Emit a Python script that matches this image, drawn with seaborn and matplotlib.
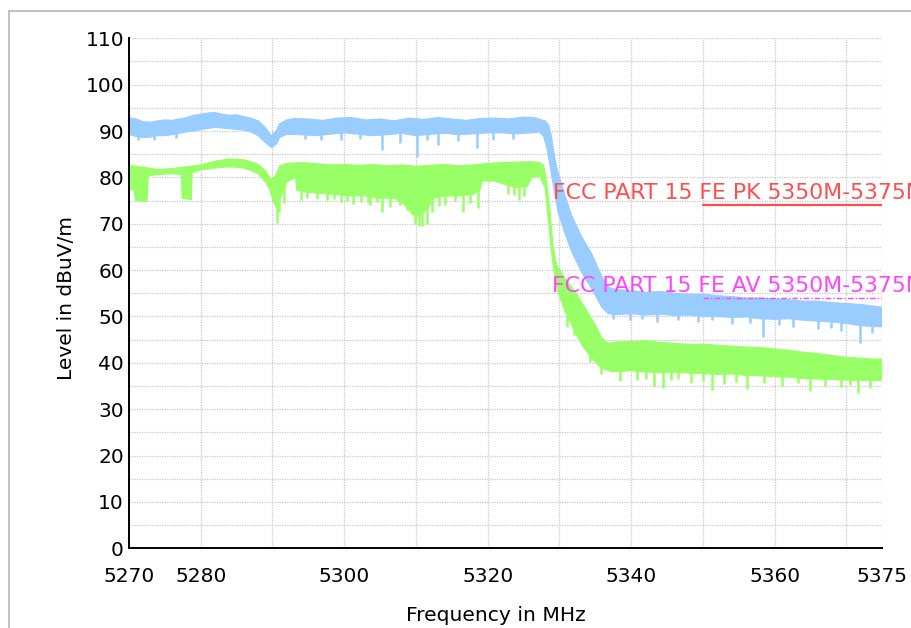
import matplotlib
matplotlib.use("Agg")
import numpy as np
import pandas as pd
import matplotlib.pyplot as plt
import seaborn as sns
from matplotlib.patches import Rectangle

# ---------------- measured traces (frequency in MHz, level in dBuV/m) ----------------
# Peak detector trace: upper and lower edge of the displayed sweep
pk_top_f = [5270, 5271, 5272, 5273, 5274, 5275, 5276, 5277, 5278, 5279, 5280, 5281, 5282,
            5283, 5284, 5285, 5286, 5287, 5288, 5289, 5289.8, 5290.5, 5291, 5292, 5293,
            5295, 5297, 5299, 5301, 5303, 5305, 5307, 5309, 5311, 5313, 5315, 5317, 5319,
            5321, 5323, 5325, 5326.5, 5327.5, 5328, 5328.5, 5328.9, 5329.3, 5329.8,
            5330.8, 5331.7, 5333.1, 5334.5, 5335.5, 5336.3, 5337, 5338, 5340, 5342, 5344,
            5346, 5348, 5350, 5352, 5354, 5356, 5358, 5360, 5362, 5364, 5366, 5368, 5370,
            5372, 5374, 5375]
pk_top_l = [92.9, 92.6, 92.0, 91.9, 92.2, 92.4, 92.3, 92.6, 92.9, 93.4, 93.6, 93.9, 94.0,
            93.6, 93.4, 93.5, 93.1, 92.8, 92.2, 90.8, 89.0, 90.0, 91.6, 92.4, 92.7,
            92.6, 92.3, 92.8, 92.9, 92.4, 92.6, 92.2, 92.8, 92.5, 92.9, 92.6, 92.3, 92.7,
            92.8, 92.6, 93.0, 92.9, 92.4, 92.2, 91.3, 88.8, 84.5, 81.0,
            76.0, 71.8, 67.2, 63.5, 60.0, 57.5, 56.2, 55.8, 55.6, 55.2, 55.4,
            55.0, 54.8, 54.8, 54.5, 54.3, 54.0, 54.0, 53.8, 53.6, 53.3, 53.3, 53.0, 52.8,
            52.6, 52.2, 52.0]
pk_bot_f = [5270, 5271, 5272, 5273, 5274, 5275, 5276, 5277, 5278, 5279, 5280, 5282, 5284,
            5286, 5287, 5288, 5289, 5289.9, 5290.6, 5291, 5292, 5294, 5296, 5298, 5300,
            5302, 5304, 5306, 5308, 5310, 5312, 5314, 5316, 5318, 5320, 5322, 5324, 5326,
            5327.2, 5327.8, 5328.3, 5328.9, 5329.8, 5330.8, 5331.7, 5333.1, 5334.5,
            5335.9, 5336.8, 5338, 5340, 5342, 5344, 5346, 5348, 5350, 5352, 5354, 5356,
            5358, 5360, 5362, 5364, 5366, 5368, 5370, 5372, 5374, 5375]
pk_bot_l = [89.3, 88.8, 88.6, 88.7, 89.0, 89.0, 89.2, 89.5, 89.8, 90.0, 90.3, 90.8, 90.5,
            90.2, 89.8, 89.0, 87.5, 86.4, 87.3, 88.6, 89.3, 89.2, 89.0, 89.3, 89.6,
            89.3, 89.0, 89.2, 89.5, 89.0, 89.3, 89.5, 89.2, 89.4, 89.6, 89.6, 89.4, 89.6,
            89.8, 88.8, 86.0, 80.5, 72.5, 67.8, 64.0, 59.5, 56.0,
            52.0, 50.6, 50.4, 50.6, 50.3, 50.5, 50.2, 50.3, 50.0, 50.0, 49.8, 49.9,
            49.5, 49.4, 49.5, 49.2, 49.0, 48.8, 48.5, 48.0, 47.8, 47.8]
# Single downward excursions of the peak trace
pk_spike_f = [5271.2, 5273.5, 5276.5, 5294.5, 5296.8, 5299.5, 5302.2, 5305.2, 5307.8,
              5310.2, 5311.6, 5313.1, 5315.8, 5318.5, 5320.8, 5323.5, 5337.5, 5339.8,
              5341.5, 5343.6, 5346.5, 5349.3, 5351.2, 5354.0, 5356.5, 5358.4, 5360.6,
              5362.5, 5366.0, 5367.8, 5369.3, 5371.9, 5373.5]
pk_spike_l = [88.0, 88.1, 88.5, 88.2, 88.0, 88.0, 88.2, 85.9, 87.5,
              84.3, 88.0, 87.0, 87.8, 86.4, 88.0, 88.3, 49.5, 49.3,
              49.4, 48.9, 49.2, 48.9, 49.3, 48.4, 48.6, 45.6, 48.2,
              47.8, 47.2, 47.6, 46.8, 44.3, 46.5]

# Average detector trace
av_top_f = [5270, 5272, 5274, 5276, 5278, 5280, 5282, 5284, 5286, 5287, 5288, 5289, 5289.8,
            5290.5, 5291, 5292, 5294, 5296, 5298, 5300, 5302, 5304, 5306, 5308, 5310, 5312,
            5314, 5316, 5318, 5320, 5322, 5324, 5326, 5327.3, 5327.8, 5328.2, 5328.7,
            5329.1, 5329.6, 5330.8, 5332.2, 5333.6, 5335.0, 5335.9, 5336.8, 5338, 5340,
            5342, 5344, 5346, 5348, 5350, 5352, 5354, 5356, 5358, 5360, 5362, 5364, 5366,
            5368, 5370, 5372, 5374, 5375]
av_top_l = [82.6, 82.2, 81.7, 81.9, 82.3, 82.7, 83.5, 84.0, 83.8, 83.4, 82.8, 81.5, 79.5,
            80.5, 82.5, 83.0, 83.2, 83.0, 82.7, 82.8, 82.6, 82.8, 82.5, 82.7, 82.4, 82.6,
            82.8, 82.5, 82.7, 83.0, 83.2, 83.3, 83.4, 83.2, 82.5, 79.1, 72.6,
            65.4, 61.1, 58.2, 55.3, 51.8, 48.2, 45.3, 44.2, 44.5, 44.6,
            44.8, 44.4, 44.2, 44.0, 44.0, 43.8, 43.6, 43.4, 43.3, 43.0, 42.7, 42.3, 42.0,
            41.6, 41.2, 41.0, 40.8, 40.8]
av_bot_f = [5270, 5270.7, 5270.9, 5272.5, 5272.7, 5274, 5276, 5277.3, 5277.4, 5278.7, 5278.8,
            5280, 5282, 5284, 5286, 5287, 5288, 5289, 5289.6, 5290.0, 5290.5, 5291, 5291.5,
            5292, 5293.2, 5293.4, 5295, 5297, 5299, 5301, 5303, 5305, 5307, 5308.5, 5309.5,
            5310.5, 5311.5, 5312.5, 5314, 5316, 5318, 5319, 5319.2, 5321, 5322.5, 5324,
            5325.5, 5326.2, 5327.3, 5327.6, 5328.0, 5328.7, 5329.1, 5329.8, 5330.8, 5331.7,
            5333.1, 5334.5, 5335.9, 5337.3, 5340, 5342, 5344, 5346, 5348, 5350, 5352, 5354,
            5356, 5358, 5360, 5362, 5364, 5366, 5368, 5370, 5372, 5374, 5375]
av_bot_l = [77.5, 77.3, 75.0, 74.8, 80.3, 80.6, 80.8, 80.6, 75.5, 75.2, 81.0,
            81.6, 82.0, 82.3, 82.0, 81.5, 80.8, 79.0, 77.5, 75.5, 73.5, 75.5, 77.0,
            79.0, 80.0, 77.2, 76.8, 76.5, 76.3, 76.0, 76.0, 75.5, 75.5, 74.0, 72.0,
            71.5, 73.0, 75.5, 76.0, 76.0, 76.3, 77.5, 79.2, 79.2, 78.4, 77.8,
            78.0, 80.0, 80.3, 79.0, 77.7, 66.9, 61.1, 55.3, 51.0, 48.2,
            43.9, 41.0, 38.8, 38.1, 38.3, 38.0, 37.9, 38.0, 37.8, 37.7, 37.5, 37.6,
            37.3, 37.2, 37.0, 36.9, 36.6, 36.5, 36.4, 36.3, 36.2, 36.2, 36.2]
av_spike_f = [5290.6, 5290.9, 5291.6, 5294.0, 5294.8, 5296.2, 5297.6, 5298.6, 5299.5, 5300.4,
              5301.2, 5302.3, 5303.3, 5303.6, 5304.5, 5305.2, 5306.4, 5307.8, 5308.7,
              5309.9, 5310.4, 5310.8, 5311.5, 5312.3, 5313.2, 5314.0, 5315.5, 5316.6,
              5317.6, 5318.6, 5322.8, 5323.6, 5324.3, 5325.0, 5331.0, 5332.0, 5334.3,
              5335.8, 5338.5, 5340.8, 5342.0, 5343.2, 5344.4, 5345.6, 5346.5, 5348.4,
              5350.0, 5351.2, 5353.0, 5354.6, 5356.1, 5358.5, 5361.0, 5363.2, 5364.9,
              5367.0, 5369.2, 5370.5, 5371.6, 5373.3]
av_spike_l = [70.2, 72.5, 74.5, 75.2, 75.5, 75.4, 75.1, 75.3, 74.8, 75.0,
              74.2, 74.8, 74.5, 74.0, 74.6, 72.6, 73.7, 74.1, 73.0,
              70.0, 69.5, 69.6, 70.0, 72.5, 73.8, 74.1, 75.0, 72.6,
              74.5, 73.3, 76.5, 76.2, 75.1, 76.0, 47.8, 46.0, 40.2,
              37.5, 36.0, 36.3, 36.5, 35.0, 34.6, 36.2, 36.5, 35.6,
              36.0, 34.2, 35.5, 35.8, 34.3, 35.6, 35.0, 35.6, 33.9,
              35.0, 34.8, 35.2, 33.5, 34.5]

# Limit lines
limit_f = [5350, 5375]
limit_pk = [74, 74]
limit_av = [54, 54]
pk_label = "FCC PART 15 FE PK 5350M-5375M"
av_label = "FCC PART 15 FE AV 5350M-5375M"

# Axis ticks
x_ticks = [5270, 5280, 5290, 5300, 5310, 5320, 5330, 5340, 5350, 5360, 5370, 5375]
x_tick_labels = ["5270", "5280", "", "5300", "", "5320", "", "5340", "", "5360", "", "5375"]
y_ticks = list(range(0, 111, 5))

# ---------------- styling ----------------
PK_COLOR = "#99ccff"
AV_COLOR = "#99ff66"
RED = "#ff4d4d"
MAGENTA = "#ff44ff"
GRID = "#c8c8c8"

sns.set_theme(style="white")
plt.rcParams["font.family"] = ["DejaVu Sans"]
FS = 14.5

W, H = 912, 628
fig = plt.figure(figsize=(W / 100, H / 100), dpi=100)
fig.patch.set_facecolor("white")
ax = fig.add_axes([129 / W, 1 - 548.3 / H, 753.3 / W, 510 / H])
ax.set_facecolor("white")

# outer panel frame
fig.add_artist(Rectangle((9.5 / W, -0.2), 1.5, 1.2 - 10.7 / H, transform=fig.transFigure,
                         fill=False, edgecolor="#b8b8b8", lw=1.2))

def draw_trace(top_f, top_l, bot_f, bot_l, spike_f, spike_l, color, z):
    poly_x = np.r_[top_f, bot_f[::-1]]
    poly_y = np.r_[top_l, bot_l[::-1]]
    ax.fill(poly_x, poly_y, color=color, lw=0.8, ec=color, zorder=z)
    base = np.interp(spike_f, bot_f, bot_l) + 1.0
    ax.vlines(spike_f, spike_l, base, color=color, lw=1.8, zorder=z)

draw_trace(av_top_f, av_top_l, av_bot_f, av_bot_l, av_spike_f, av_spike_l, AV_COLOR, 3)
draw_trace(pk_top_f, pk_top_l, pk_bot_f, pk_bot_l, pk_spike_f, pk_spike_l, PK_COLOR, 3.2)

# limit lines
lim = pd.DataFrame({"f": limit_f, "pk": limit_pk, "av": limit_av})
sns.lineplot(data=lim, x="f", y="pk", color=RED, lw=1.6, ax=ax, zorder=4)
sns.lineplot(data=lim, x="f", y="av", color=MAGENTA, lw=1.0,
             linestyle=(0, (4, 1.5, 1, 1.5)), ax=ax, zorder=4)

# limit names run past the right edge of the panel, as on the analyser printout
ax.text(5329.1, 75.3, pk_label, color=RED, fontsize=15.8, va="baseline", ha="left",
        clip_on=False, zorder=5)
ax.text(5328.9, 55.3, av_label, color=MAGENTA, fontsize=15.8, va="baseline", ha="left",
        clip_on=False, zorder=5)

# axes
ax.set_xlim(5270, 5375)
ax.set_ylim(0, 110)
ax.set_xticks(x_ticks)
ax.set_xticklabels(x_tick_labels)
ax.set_yticks(y_ticks)
ax.set_yticklabels([str(v) if v % 10 == 0 else "" for v in y_ticks])
ax.set_axisbelow(True)
ax.grid(True, color=GRID, linestyle=(0, (1, 1)), lw=0.9)

for side in ("top", "right"):
    ax.spines[side].set_visible(False)
for side in ("left", "bottom"):
    ax.spines[side].set_color("black")
    ax.spines[side].set_linewidth(1.4)
    ax.spines[side].set_zorder(6)

ax.tick_params(axis="both", direction="inout", length=6, width=1.3, color="black",
               labelsize=FS, labelcolor="black")
ax.tick_params(axis="x", pad=10.2)
ax.tick_params(axis="y", pad=0.6)

ax.set_xlabel("Frequency in MHz", fontsize=14.6, color="black")
ax.set_ylabel("Level in dBuV/m", fontsize=14.5, color="black")
ax.xaxis.set_label_coords(0.4865, -0.114)
ax.yaxis.set_label_coords(-0.0698, 0.491)

fig.savefig("out.png", dpi=100, facecolor="white")
